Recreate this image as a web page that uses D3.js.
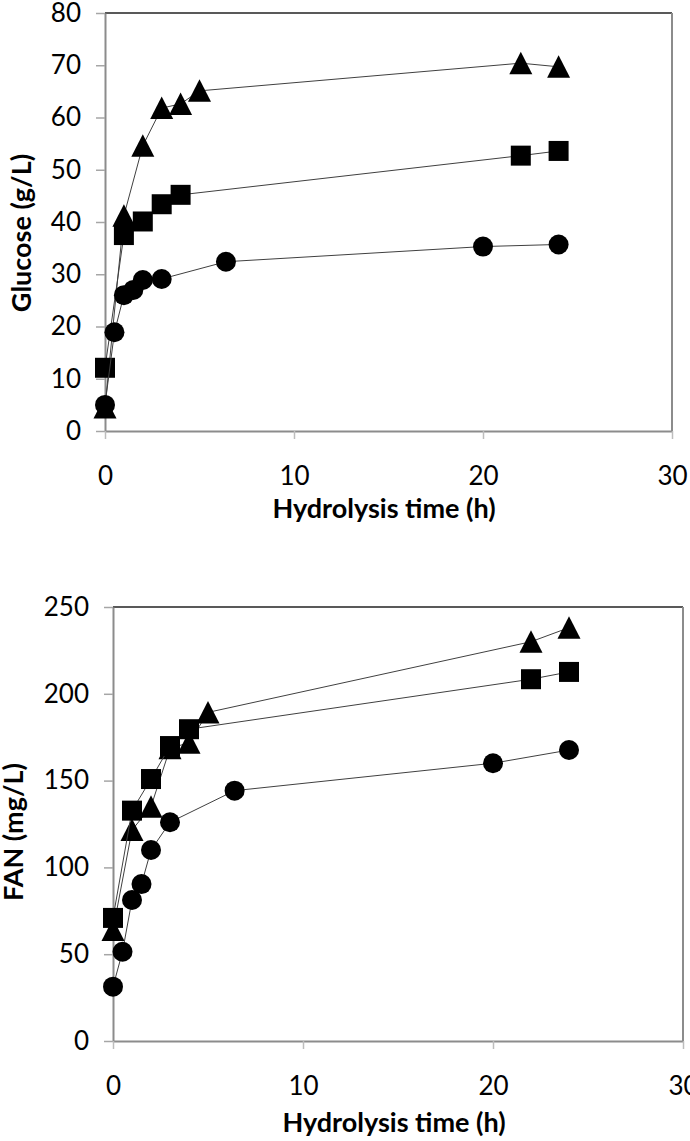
<!DOCTYPE html>
<html>
<head>
<meta charset="utf-8">
<script src="https://cdn.jsdelivr.net/npm/d3@7"></script>
<style>
  body { margin: 0; background: #fff; }
  svg text { font-family: Lato, "Liberation Sans", sans-serif; fill: #000; }
</style>
</head>
<body>
<div id="chart"></div>
<script>
// hydrolysis time (h) for each marker series
var circleTimes = [0, 0.5, 1, 1.5, 2, 3, 6.4, 20, 24];
var squareTimes = [0, 1, 2, 3, 4, 22, 24];
var triangleTimes = [0, 1, 2, 3, 4, 5, 22, 24];

// glucose (g/L)
var glucoseCircle = [5.0, 18.9, 26.0, 27.0, 28.9, 29.1, 32.4, 35.3, 35.7];
var glucoseSquare = [12.1, 37.5, 40.1, 43.4, 45.2, 52.7, 53.6];
var glucoseTriangle = [4.5, 41.2, 54.6, 61.8, 62.6, 65.1, 70.4, 69.7];

// FAN (mg/L)
var fanCircle = [31.3, 51.4, 81.2, 90.4, 110, 126, 144.2, 160, 167.6];
var fanSquare = [70.9, 132.7, 150.9, 169.9, 179.6, 208.4, 212.6];
var fanTriangle = [63.9, 121.5, 135, 168.6, 171.8, 189.3, 230, 238.1];

// tick labels
var xTicks = [0, 10, 20, 30];
var glucoseTicks = [0, 10, 20, 30, 40, 50, 60, 70, 80];
var fanTicks = [0, 50, 100, 150, 200, 250];

var width = 690, height = 1141;

var svg = d3.select("#chart")
  .append("svg")
    .attr("width", width)
    .attr("height", height);

function markerPath(shape) {
  if (shape === "square") return "M-10,-10H10V10H-10Z";
  if (shape === "triangle") return "M0,-11.5L11.5,11L-11.5,11Z";
  return "M-10,0A10,10 0 1,0 10,0A10,10 0 1,0 -10,0Z";
}

function zip(times, values) {
  return times.map(function(t, i) { return { t: t, v: values[i] }; });
}

function drawPanel(p) {
  var g = svg.append("g");

  var xScale = d3.scaleLinear().domain([0, 30]).range([p.left, p.right]);
  var yScale = d3.scaleLinear().domain([0, p.yMax]).range([p.bottom, p.top]);

  // frame: top dark, right gray
  g.append("line")
    .attr("x1", p.left).attr("x2", p.right)
    .attr("y1", p.top).attr("y2", p.top)
    .attr("stroke", "#222").attr("stroke-width", 1.5);
  g.append("line")
    .attr("x1", p.right).attr("x2", p.right)
    .attr("y1", p.top).attr("y2", p.bottom)
    .attr("stroke", "#8c8c8c").attr("stroke-width", 2);

  // Y axis
  var yAxis = g.append("g")
    .attr("transform", "translate(" + p.left + ",0)")
    .call(d3.axisLeft(yScale).tickValues(p.yTicks).tickSize(9).tickSizeOuter(0).tickPadding(15));
  yAxis.select(".domain").attr("stroke", "#8c8c8c").attr("stroke-width", 2);
  yAxis.selectAll(".tick line").attr("stroke", "#a6a6a6").attr("stroke-width", 1.5);
  yAxis.selectAll("text").style("font-size", "26px");

  // X axis
  var xAxis = g.append("g")
    .attr("transform", "translate(0," + p.bottom + ")")
    .call(d3.axisBottom(xScale).tickValues(xTicks).tickSize(8).tickSizeOuter(0).tickPadding(28));
  xAxis.select(".domain").attr("stroke", "#8c8c8c").attr("stroke-width", 2);
  xAxis.selectAll(".tick line").attr("stroke", "#bdbdbd").attr("stroke-width", 1.5);
  xAxis.selectAll("text").style("font-size", "26px");

  // titles
  g.append("text")
    .attr("x", p.xTitleX).attr("y", p.xTitleY)
    .attr("text-anchor", "middle")
    .style("font-size", "27px").style("font-weight", "bold")
    .text("Hydrolysis time (h)");
  g.append("text")
    .attr("transform", "translate(" + p.yTitleX + "," + p.yTitleY + ") rotate(-90)")
    .attr("text-anchor", "middle")
    .style("font-size", "27px").style("font-weight", "bold")
    .text(p.yTitle);

  var line = d3.line()
    .x(function(d) { return xScale(d.t); })
    .y(function(d) { return yScale(d.v); });

  p.series.forEach(function(s) {
    g.append("path")
      .datum(s.data)
      .attr("fill", "none")
      .attr("stroke", "#404040")
      .attr("stroke-width", 1)
      .attr("d", line);

    g.selectAll(null)
      .data(s.data)
      .enter().append("path")
      .attr("transform", function(d) { return "translate(" + xScale(d.t) + "," + yScale(d.v) + ")"; })
      .attr("d", markerPath(s.shape))
      .attr("fill", "#000");
  });
}

drawPanel({
  left: 105, right: 672, top: 13, bottom: 431,
  yMax: 80, yTicks: glucoseTicks,
  yTitle: "Glucose (g/L)", yTitleX: 31, yTitleY: 233,
  xTitleX: 384, xTitleY: 518,
  series: [
    { shape: "triangle", data: zip(triangleTimes, glucoseTriangle) },
    { shape: "square", data: zip(squareTimes, glucoseSquare) },
    { shape: "circle", data: zip(circleTimes, glucoseCircle) }
  ]
});

drawPanel({
  left: 113, right: 683, top: 607, bottom: 1041,
  yMax: 250, yTicks: fanTicks,
  yTitle: "FAN (mg/L)", yTitleX: 23, yTitleY: 832,
  xTitleX: 394, xTitleY: 1132,
  series: [
    { shape: "triangle", data: zip(triangleTimes, fanTriangle) },
    { shape: "square", data: zip(squareTimes, fanSquare) },
    { shape: "circle", data: zip(circleTimes, fanCircle) }
  ]
});
</script>
</body>
</html>
